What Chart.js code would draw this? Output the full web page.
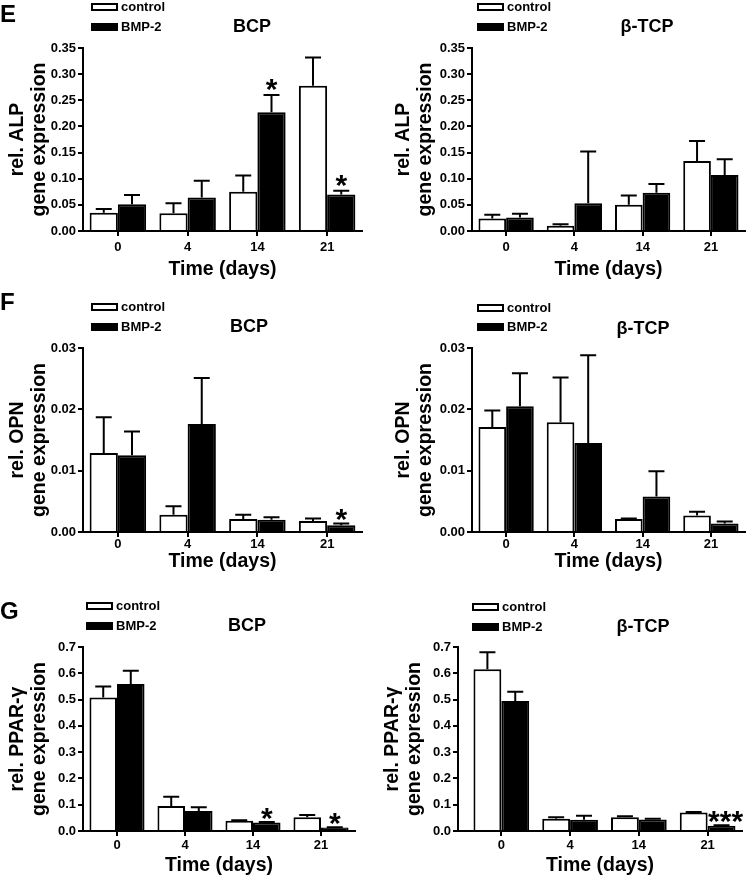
<!DOCTYPE html>
<html lang="en">
<head>
<meta charset="UTF-8">
<title>rel. gene expression - BCP / β-TCP</title>
<script src="https://cdn.jsdelivr.net/npm/chart.js"></script>
<style>
    body { margin: 0; background: #fff; }
    #wrap { position: relative; width: 750px; height: 879px; }
    #wrap canvas { position: absolute; }
</style>
</head>
<body>
<div id="wrap">
    <canvas id="alp_bcp" width="375" height="290" style="left:0;top:0"></canvas>
    <canvas id="alp_tcp" width="375" height="290" style="left:375px;top:0"></canvas>
    <canvas id="opn_bcp" width="375" height="295" style="left:0;top:290px"></canvas>
    <canvas id="opn_tcp" width="375" height="295" style="left:375px;top:290px"></canvas>
    <canvas id="ppar_bcp" width="375" height="294" style="left:0;top:585px"></canvas>
    <canvas id="ppar_tcp" width="375" height="294" style="left:375px;top:585px"></canvas>
</div>
<script>
// categories
const days = ['0', '4', '14', '21'];
const groupNames = ['control', 'BMP-2'];

// E - ALP
const alpBcpControl = [0.035, 0.034, 0.075, 0.278];
const alpBcpControlSd = [0.007, 0.019, 0.031, 0.054];
const alpBcpBmp = [0.051, 0.064, 0.227, 0.070];
const alpBcpBmpSd = [0.018, 0.032, 0.033, 0.007];
const alpBcpStars = ['', '', '*', '*'];

const alpTcpControl = [0.024, 0.010, 0.050, 0.134];
const alpTcpControlSd = [0.007, 0.003, 0.018, 0.038];
const alpTcpBmp = [0.026, 0.053, 0.073, 0.107];
const alpTcpBmpSd = [0.007, 0.099, 0.017, 0.030];
const alpTcpStars = ['', '', '', ''];

// F - OPN
const opnBcpControl = [0.0129, 0.0028, 0.0021, 0.0018];
const opnBcpControlSd = [0.0058, 0.0014, 0.0007, 0.0004];
const opnBcpBmp = [0.0125, 0.0176, 0.0020, 0.0011];
const opnBcpBmpSd = [0.0039, 0.0075, 0.0004, 0.0003];
const opnBcpStars = ['', '', '', '*'];

const opnTcpControl = [0.0171, 0.0179, 0.0021, 0.0027];
const opnTcpControlSd = [0.0027, 0.0073, 0.0001, 0.0006];
const opnTcpBmp = [0.0205, 0.0145, 0.0058, 0.0014];
const opnTcpBmpSd = [0.0054, 0.0143, 0.0041, 0.0003];
const opnTcpStars = ['', '', '', ''];

// G - PPAR-gamma
const pparBcpControl = [0.508, 0.095, 0.039, 0.052];
const pparBcpControlSd = [0.042, 0.035, 0.002, 0.009];
const pparBcpBmp = [0.559, 0.076, 0.032, 0.013];
const pparBcpBmpSd = [0.051, 0.014, 0.002, 0.001];
const pparBcpStars = ['', '', '*', '*'];

const pparTcpControl = [0.615, 0.047, 0.052, 0.070];
const pparTcpControlSd = [0.065, 0.005, 0.004, 0.002];
const pparTcpBmp = [0.495, 0.043, 0.044, 0.020];
const pparTcpBmpSd = [0.035, 0.015, 0.003, 0.002];
const pparTcpStars = ['', '', '', '***'];

// y axes
const alpAxis = { max: 0.35, step: 0.05, dec: 2, title: ['rel. ALP', 'gene expression'] };
const opnAxis = { max: 0.03, step: 0.01, dec: 2, title: ['rel. OPN', 'gene expression'] };
const pparAxis = { max: 0.7, step: 0.1, dec: 1, title: ['rel. PPAR-γ', 'gene expression'] };

const FONT = "'Liberation Sans', Arial, Helvetica, sans-serif";
Chart.defaults.font.family = FONT;
Chart.defaults.color = '#000';

function drawPanel(id, p) {
    const canvas = document.getElementById(id);
    const W = canvas.width, H = canvas.height;
    const a = p.area;
    const padLeft = p.padLeft || 0;

    const extras = {
        id: 'extras',
        afterDatasetsDraw(chart) {
            const ctx = chart.ctx;
            const ys = chart.scales.y;
            ctx.save();
            ctx.strokeStyle = '#000';
            ctx.fillStyle = '#000';
            ctx.lineWidth = 2;
            [[p.ctrl, p.ctrlSd], [p.bmp, p.bmpSd]].forEach(([means, sds], i) => {
                chart.getDatasetMeta(i).data.forEach((bar, j) => {
                    const y0 = ys.getPixelForValue(means[j]);
                    const y1 = ys.getPixelForValue(means[j] + sds[j]);
                    ctx.beginPath();
                    ctx.moveTo(bar.x, y0);
                    ctx.lineTo(bar.x, y1);
                    ctx.moveTo(bar.x - 8, y1);
                    ctx.lineTo(bar.x + 8, y1);
                    ctx.stroke();
                    if (i === 1 && p.stars[j]) {
                        ctx.font = 'bold 30px ' + FONT;
                        ctx.textAlign = 'center';
                        ctx.textBaseline = 'alphabetic';
                        ctx.fillText(p.stars[j], bar.x + (p.stars[j].length > 1 ? 4 : 0), y1 + p.starDrop);
                    }
                });
            });
            ctx.restore();
        },
        afterDraw(chart) {
            const ctx = chart.ctx;
            ctx.save();
            ctx.fillStyle = '#000';
            ctx.strokeStyle = '#000';
            // panel letter
            if (p.letter) {
                ctx.font = 'bold 24px ' + FONT;
                ctx.textAlign = 'left';
                ctx.textBaseline = 'alphabetic';
                ctx.fillText(p.letter, 0, p.letterY);
            }
            // legend
            const lg = p.legend;
            ctx.lineWidth = 2;
            ctx.fillStyle = '#fff';
            ctx.fillRect(lg.x + 1, lg.y1 - 3, 25, 6);
            ctx.strokeRect(lg.x + 1, lg.y1 - 3, 25, 6);
            ctx.fillStyle = '#000';
            ctx.fillRect(lg.x, lg.y2 - 4, 27, 8);
            ctx.font = 'bold 13px ' + FONT;
            ctx.textAlign = 'left';
            ctx.textBaseline = 'middle';
            ctx.fillText(groupNames[0], lg.tx, lg.y1);
            ctx.fillText(groupNames[1], lg.tx, lg.y2);
            // title
            ctx.font = 'bold 18px ' + FONT;
            ctx.textAlign = 'center';
            ctx.fillText(p.title.text, p.title.x, p.title.y);
            ctx.restore();
        }
    };

    const tickGrid = { display: true, drawOnChartArea: false, offset: false, tickLength: 5, color: '#000', lineWidth: 2 };

    return new Chart(canvas, {
        type: 'bar',
        data: {
            labels: days,
            datasets: [
                { label: groupNames[0], data: p.ctrl, backgroundColor: '#fff', borderColor: '#000', borderWidth: 2 },
                { label: groupNames[1], data: p.bmp, backgroundColor: '#000', borderColor: '#000', borderWidth: 2 }
            ]
        },
        options: {
            responsive: false,
            animation: false,
            layout: { padding: { left: padLeft, top: a.t, right: W - a.r, bottom: 0 } },
            datasets: { bar: { categoryPercentage: 0.81, barPercentage: 1 } },
            plugins: {
                legend: { display: false },
                title: { display: false },
                tooltip: { enabled: false }
            },
            scales: {
                x: {
                    grid: tickGrid,
                    border: { color: '#000', width: 2, z: 1 },
                    ticks: { font: { size: 13, weight: 'bold' }, padding: p.xTickPad, maxRotation: 0 },
                    title: { display: true, text: 'Time (days)', font: { size: 19.5, weight: 'bold', lineHeight: 1.1 },
                             padding: { top: 0, bottom: p.xTitlePad } },
                    afterFit: s => { s.height = H - a.b; },
                    afterBuildTicks: s => {
                        if (p.lead) { s._startValue -= p.lead; s._valueRange += p.lead; }
                    }
                },
                y: {
                    min: 0,
                    max: p.axis.max,
                    grid: tickGrid,
                    border: { color: '#000', width: 2, z: 1 },
                    ticks: { stepSize: p.axis.step, padding: 2, font: { size: 13, weight: 'bold' },
                             callback: v => v.toFixed(p.axis.dec) },
                    title: { display: true, text: p.axis.title, font: { size: 19.5, weight: 'bold', lineHeight: 1.1 },
                             padding: { top: 7, bottom: 0 } },
                    afterFit: s => { s.width = a.l - padLeft; }
                }
            }
        },
        plugins: [extras]
    });
}

drawPanel('alp_bcp', {
    ctrl: alpBcpControl, ctrlSd: alpBcpControlSd, bmp: alpBcpBmp, bmpSd: alpBcpBmpSd, stars: alpBcpStars,
    axis: alpAxis, area: { l: 83, t: 48, r: 362, b: 231 },
    letter: 'E', letterY: 22, legend: { x: 91, y1: 7, y2: 27, tx: 121 },
    title: { text: 'BCP', x: 252, y: 27 }, xTickPad: 4, xTitlePad: 10, starDrop: 4
});
drawPanel('alp_tcp', {
    ctrl: alpTcpControl, ctrlSd: alpTcpControlSd, bmp: alpTcpBmp, bmpSd: alpTcpBmpSd, stars: alpTcpStars,
    axis: alpAxis, area: { l: 97, t: 48, r: 370, b: 231 }, padLeft: 11,
    legend: { x: 102, y1: 7, y2: 27, tx: 132 },
    title: { text: 'β-TCP', x: 272, y: 27 }, xTickPad: 4, xTitlePad: 10, starDrop: 4
});
drawPanel('opn_bcp', {
    ctrl: opnBcpControl, ctrlSd: opnBcpControlSd, bmp: opnBcpBmp, bmpSd: opnBcpBmpSd, stars: opnBcpStars,
    axis: opnAxis, area: { l: 83, t: 58, r: 362, b: 242 },
    letter: 'F', letterY: 20, legend: { x: 91, y1: 17, y2: 37, tx: 121 },
    title: { text: 'BCP', x: 249, y: 37 }, xTickPad: 0, xTitlePad: 13, starDrop: 6
});
drawPanel('opn_tcp', {
    ctrl: opnTcpControl, ctrlSd: opnTcpControlSd, bmp: opnTcpBmp, bmpSd: opnTcpBmpSd, stars: opnTcpStars,
    axis: opnAxis, area: { l: 97, t: 58, r: 370, b: 242 }, padLeft: 11,
    legend: { x: 102, y1: 18, y2: 37, tx: 132 },
    title: { text: 'β-TCP', x: 268, y: 39 }, xTickPad: 0, xTitlePad: 13, starDrop: 6
});
drawPanel('ppar_bcp', {
    ctrl: pparBcpControl, ctrlSd: pparBcpControlSd, bmp: pparBcpBmp, bmpSd: pparBcpBmpSd, stars: pparBcpStars,
    axis: pparAxis, area: { l: 83, t: 62, r: 355, b: 246 },
    letter: 'G', letterY: 34, legend: { x: 86, y1: 21, y2: 41, tx: 116 },
    title: { text: 'BCP', x: 247, y: 41 }, xTickPad: 2, xTitlePad: 3, starDrop: 6
});
drawPanel('ppar_tcp', {
    ctrl: pparTcpControl, ctrlSd: pparTcpControlSd, bmp: pparTcpBmp, bmpSd: pparTcpBmpSd, stars: pparTcpStars,
    axis: pparAxis, area: { l: 83, t: 62, r: 367, b: 246 }, lead: 0.13,
    legend: { x: 97, y1: 22, y2: 42, tx: 127 },
    title: { text: 'β-TCP', x: 268, y: 42 }, xTickPad: 2, xTitlePad: 3, starDrop: 6
});
</script>
</body>
</html>
